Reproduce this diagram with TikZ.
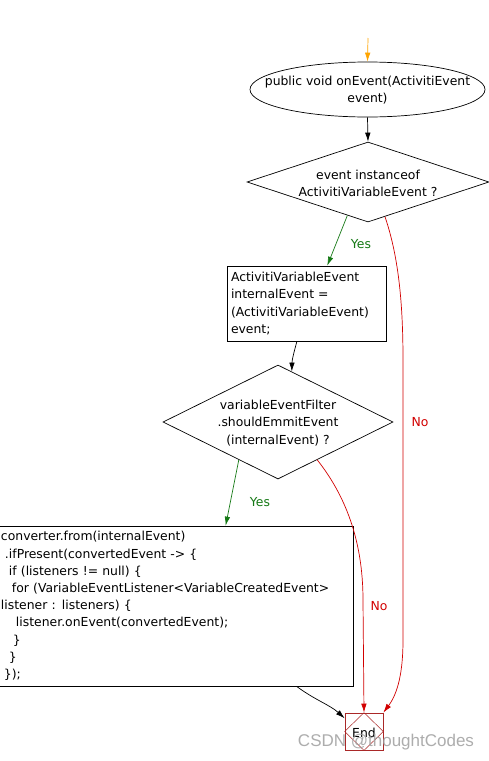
\documentclass[tikz,border=0pt]{standalone}
\usepackage{fontspec}
\setmainfont{DejaVu Sans}
\newfontfamily\wmfont{Liberation Sans}
\usetikzlibrary{shapes.geometric,arrows.meta,calc}
\definecolor{yesgreen}{RGB}{20,120,20}
\definecolor{nored}{RGB}{210,0,0}
\definecolor{endred}{RGB}{170,40,40}
\definecolor{startorange}{RGB}{255,165,0}
\begin{document}
\begin{tikzpicture}[x=1pt,y=-1pt,
  every node/.style={font=\fontsize{12.4}{17.2}\selectfont},
  flow/.style={line width=0.7pt,-{Latex[length=9pt,width=5.5pt]}},
  noflow/.style={flow,draw=nored},
  dec/.style={draw,diamond,inner sep=0pt,line width=0.7pt},
  proc/.style={draw,rectangle,line width=0.7pt,align=left,inner ysep=0pt},
  yeslbl/.style={text=yesgreen},
  nolbl/.style={text=nored}]
\useasboundingbox (0,0) rectangle (488,761);
\fill[white] (0,0) rectangle (488,761);

\coordinate (s) at (368,38);
\node[draw,ellipse,line width=0.7pt,minimum width=235,minimum height=55,inner sep=0pt] (start) at (367.5,89.5) {};
\node[align=center,inner sep=0pt] (startt) at (367.5,90) {public void onEvent(ActivitiEvent\\event)};

\node[dec,minimum width=242,minimum height=80] (d1) at (368,182) {};
\node[align=center,inner sep=0pt] (d1t) at (368,183) {event instanceof\\ActivitiVariableEvent ?};

\node[proc,minimum width=159,minimum height=75,text width=151,inner xsep=4pt] (b1) at (306.5,303.5)
 {ActivitiVariableEvent\\internalEvent =\\(ActivitiVariableEvent)\\event;};

\node[dec,minimum width=230,minimum height=114] (d2) at (278,422) {};
\node[align=center,inner sep=0pt] (d2t) at (278,423) {variableEventFilter\\.shouldEmmitEvent\\(internalEvent) ?};

\node[proc,minimum width=354,minimum height=160,text width=350,inner xsep=2pt] (b2) at (176,606)
 {converter.from(internalEvent)\\
 \hspace*{4pt}.ifPresent(convertedEvent -> \{\\
 \hspace*{8pt}if (listeners != null) \{\\
 \hspace*{11pt}for (VariableEventListener<VariableCreatedEvent>\\
 listener : listeners) \{\\
 \hspace*{15pt}listener.onEvent(convertedEvent);\\
 \hspace*{12pt}\}\\
 \hspace*{8pt}\}\\
 \hspace*{3pt}\});};

\node[draw=endred,rectangle,line width=0.7pt,minimum width=38,minimum height=37,inner sep=0pt] (end) at (364,731.5) {};
\draw[endred,line width=0.5pt] (end.north) -- (end.east) -- (end.south) -- (end.west) -- cycle;
\node[inner sep=0pt] (endt) at (364,733) {End};

\node[text=gray!75,opacity=0.85,font=\wmfont\fontsize{17}{19}\selectfont] (wm) at (386,742) {CSDN @thoughtCodes};

% connectors
\draw[flow,startorange] (s) -- (start.north);
\draw[flow] (start.south) -- (d1.north);

\draw[flow,yesgreen] ($(d1.south)!0.17!(d1.west)$) -- ($(b1.north west)!0.63!(b1.north east)$);
\node[yeslbl] (y1) at (361,244) {Yes};

\draw[noflow] ($(d1.south)!0.14!(d1.east)$) .. controls (398,255) and (403,300) .. (403,360)
  -- (403,640) .. controls (403,680) and (395,697) .. (end.north east);
\node[nolbl] (n1) at (420,422) {No};

\draw[flow] ($(b1.south west)!0.44!(b1.south east)$) .. controls (294,352) and (292,360) .. ($(d2.north)!0.12!(d2.east)$);

\draw[flow,yesgreen] ($(d2.south)!0.34!(d2.west)$) -- ($(b2.north west)!0.64!(b2.north east)$);
\node[yeslbl] (y2) at (260,502) {Yes};

\draw[noflow] ($(d2.south)!0.34!(d2.east)$) .. controls (345,495) and (363,540) .. (363,600)
  -- (end.north);
\node[nolbl] (n2) at (379,606) {No};

\draw[flow] ($(b2.south west)!0.84!(b2.south east)$) .. controls (315,700) and (330,705) .. ($(end.north west)!0.15!(end.south west)$);
\end{tikzpicture}
\end{document}
